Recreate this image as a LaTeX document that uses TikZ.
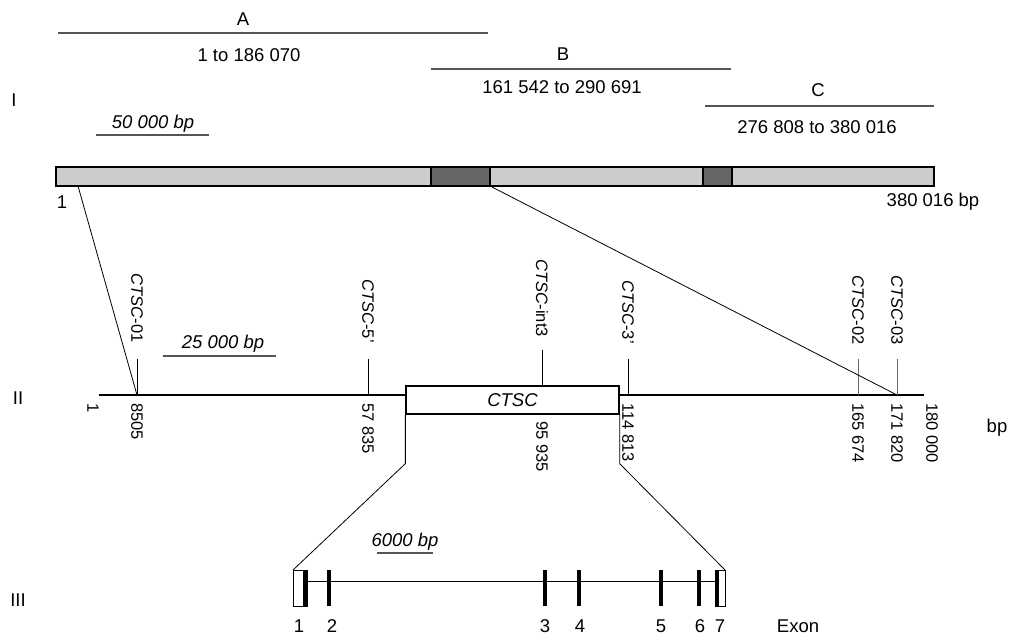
\documentclass[tikz,border=0pt]{standalone}
\usepackage{fontspec}
\setmainfont{Liberation Sans}
\definecolor{barlight}{HTML}{CCCCCC}
\definecolor{bardark}{HTML}{666666}
\definecolor{clonegray}{HTML}{555555}
\begin{document}
\begin{tikzpicture}[x=1pt,y=-1pt,
  lab/.style={font=\fontsize{18.5}{20}\selectfont, inner sep=0pt},
  rlab/.style={font=\fontsize{16.5}{18}\selectfont, inner sep=0pt, rotate=-90},
  thinline/.style={line width=0.8pt},
  scalebar/.style={line width=1.2pt, draw=clonegray},
  clone/.style={line width=1.4pt, draw=clonegray},
  exonbar/.style={line width=4pt},
  framebox/.style={line width=1.3pt}]
\useasboundingbox (0,0) rectangle (1014,637);

% ---------- Level I ----------
\node[lab] (lvlI) at (14,100) {I};
\draw[clone] (58,33) coordinate (a1) -- (488,33) coordinate (a2);
\node[lab] (A) at (243,19) {A};
\node[lab] (Ar) at (249,55) {1 to 186 070};
\draw[clone] (431,69) coordinate (b1) -- (731,69) coordinate (b2);
\node[lab] (B) at (563,54) {B};
\node[lab] (Br) at (562,87) {161 542 to 290 691};
\draw[clone] (705,106) coordinate (c1) -- (934,106) coordinate (c2);
\node[lab] (C) at (818,90) {C};
\node[lab] (Cr) at (817,127) {276 808 to 380 016};

\node[lab] (sb1) at (153,124) {\itshape 50 000 bp};
\draw[scalebar] (96,135) -- (209,135);

\draw[framebox, fill=barlight] (56,167) rectangle (934,186);
\draw[framebox, fill=bardark] (431,167) rectangle (490,186);
\draw[framebox, fill=bardark] (703,167) rectangle (732,186);
\coordinate (barL) at (78,186);
\coordinate (barR) at (490,186);
\node[lab] (one) at (62,202) {1};
\node[lab] (end) at (933,202) {380 016 bp};

% ---------- Level II ----------
\node[lab] (lvlII) at (18,398) {II};
\draw[framebox] (99,395) -- (406,395);
\draw[framebox] (619,395) -- (924,395);
\node[draw, framebox, minimum width=213pt, minimum height=28pt, inner sep=0pt,
      font=\fontsize{18.5}{20}\selectfont\itshape] (ctsc) at (512.5,400) {CTSC};

\foreach \n/\x in {m01/137, m5/368, m3/628, m02/858, m03/897}{
  \coordinate (\n t) at (\x,359);
  \coordinate (\n b) at (\x,395);
  \draw[thinline] (\n t) -- (\n b);
}
\coordinate (mint t) at (542,350);
\coordinate (mint b) at (542,386);
\draw[thinline] (mint t) -- (mint b);
\draw[thinline, draw=black!60] (m02t) -- (m02b);
\draw[thinline, draw=black!60] (m03t) -- (m03b);

\node[rlab, anchor=east] (l01) at (137,343) {\textit{CTSC}-01};
\node[rlab, anchor=east] (l5) at (368,343) {\textit{CTSC}-5\textquoteright};
\node[rlab, anchor=east] (lint) at (542,337) {\textit{CTSC}-int3};
\node[rlab, anchor=east] (l3) at (628,344) {\textit{CTSC}-3\textquoteright};
\node[rlab, anchor=east] (l02) at (858,345) {\textit{CTSC}-02};
\node[rlab, anchor=east] (l03) at (897,345) {\textit{CTSC}-03};

\node[rlab, anchor=west] (p1) at (93,403) {1};
\node[rlab, anchor=west] (p8505) at (137,403) {8505};
\node[rlab, anchor=west] (p57) at (368,403) {57 835};
\node[rlab, anchor=west] (p95) at (542,421) {95 935};
\node[rlab, anchor=west] (p114) at (628,403) {114 813};
\node[rlab, anchor=west] (p165) at (858,403) {165 674};
\node[rlab, anchor=west] (p171) at (897,403) {171 820};
\node[rlab, anchor=west] (p180) at (932,403) {180 000};
\node[lab] (bp) at (997,428) {bp};

\node[lab] (sb2) at (223,344) {\itshape 25 000 bp};
\draw[scalebar] (163,356) -- (276,356);

\draw[thinline] (barL) -- (m01b);
\draw[thinline] (barR) -- (m03b);

% ---------- Level III ----------
\node[lab] (lvlIII) at (18,600) {III};
\coordinate (e1) at (293,570);
\coordinate (e7) at (725,570);
\draw[thinline] (ctsc.south west) -- ++(0,49) -- (e1);
\draw[thinline] (ctsc.south east) -- ++(0,49) -- (e7);
\draw[thinline] (293,581) -- (725,581);
\draw[line width=1pt, fill=white] (293,570) rectangle (307,606);
\fill (303,570) rectangle (307,606);
\draw[line width=1pt, fill=white] (715,570) rectangle (725,606);
\fill (715,570) rectangle (719,606);
\foreach \x in {329,545,579,661,699}{
  \draw[exonbar] (\x,570) -- (\x,606);
}
\foreach \n/\x in {1/299,2/332,3/545,4/580,5/661,6/700,7/720}{
  \node[lab] (ex\n) at (\x,626) {\n};
}
\node[lab] (exon) at (798,626) {Exon};
\node[lab] (sb3) at (405,542) {\itshape 6000 bp};
\draw[scalebar] (377,553) -- (433,553);
\end{tikzpicture}
\end{document}
